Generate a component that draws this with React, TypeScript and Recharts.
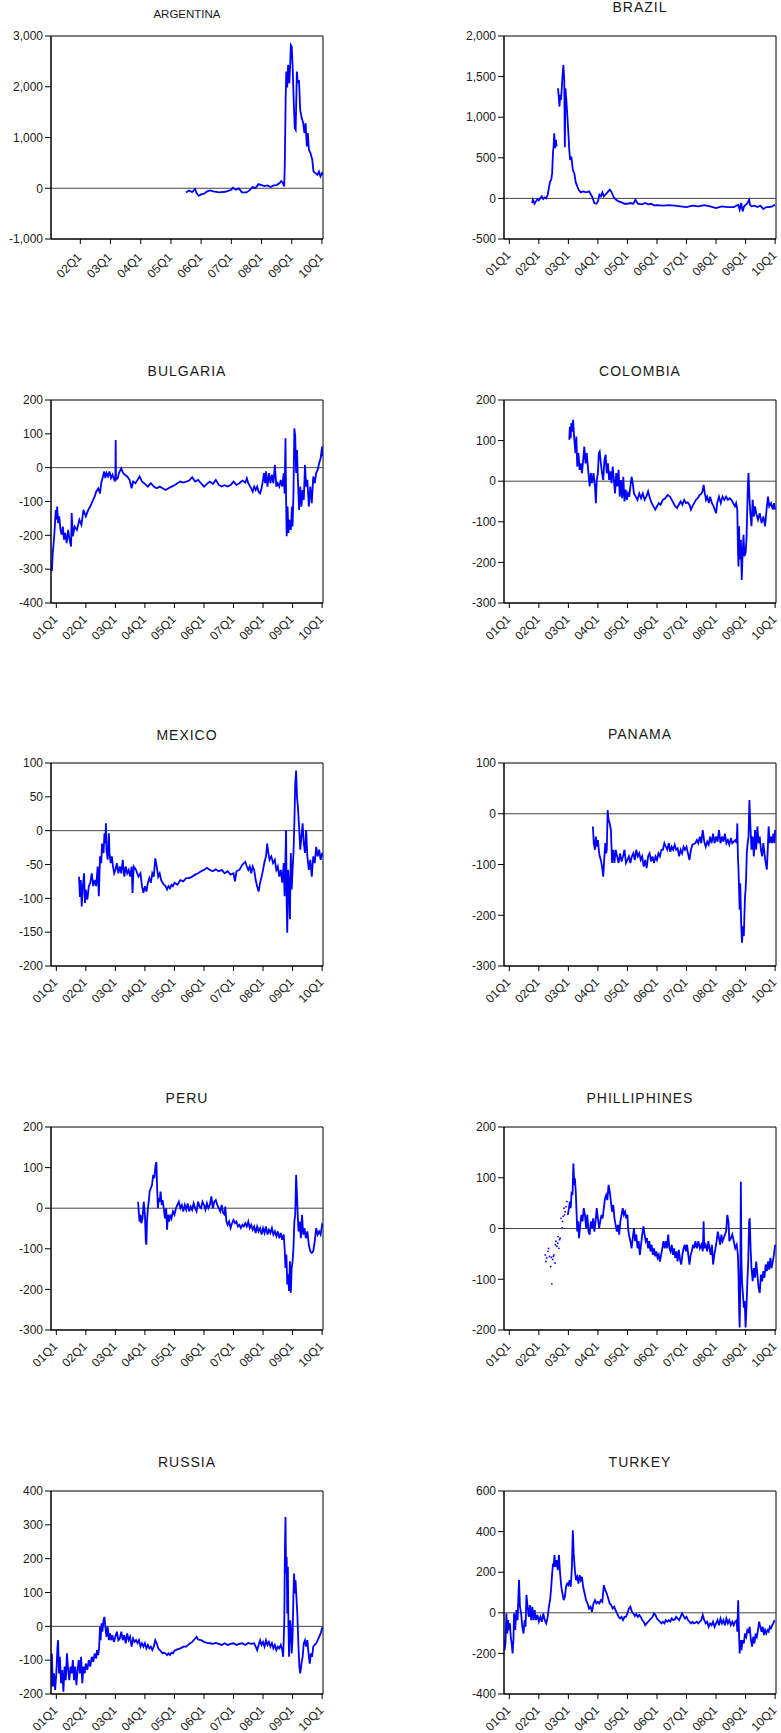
import React from 'react';
import { LineChart, Line, XAxis, YAxis, ReferenceLine, ReferenceArea } from 'recharts';

type Pt = [number, number | null];

const quarterTicks = [2001, 2002, 2003, 2004, 2005, 2006, 2007, 2008, 2009, 2010];
const quarterLabels = ['01Q1', '02Q1', '03Q1', '04Q1', '05Q1', '06Q1', '07Q1', '08Q1', '09Q1', '10Q1'];

const argentinaTicks = [-1000, 0, 1000, 2000, 3000];
const brazilTicks = [-500, 0, 500, 1000, 1500, 2000];
const bulgariaTicks = [-400, -300, -200, -100, 0, 100, 200];
const colombiaTicks = [-300, -200, -100, 0, 100, 200];
const mexicoTicks = [-200, -150, -100, -50, 0, 50, 100];
const panamaTicks = [-300, -200, -100, 0, 100];
const peruTicks = [-300, -200, -100, 0, 100, 200];
const philippinesTicks = [-200, -100, 0, 100, 200];
const russiaTicks = [-200, -100, 0, 100, 200, 300, 400];
const turkeyTicks = [-400, -200, 0, 200, 400, 600];

const argentina: Pt[] = [
  [2005.5,-82],[2005.6,-43],[2005.7,-75],[2005.8,-16],[2005.85,-95],[2005.92,-148],[2006.0,-121],[2006.1,-108],[2006.2,-62],[2006.3,-43],
  [2006.4,-62],[2006.6,-82],[2006.8,-69],[2007.0,-30],[2007.05,10],[2007.15,-30],[2007.25,-3],[2007.35,-82],[2007.5,-82],[2007.6,-43],
  [2007.7,23],[2007.8,3],[2007.9,82],[2008.0,62],[2008.1,43],[2008.2,56],[2008.3,23],[2008.4,56],[2008.5,62],[2008.6,102],
  [2008.65,141],[2008.7,115],[2008.75,36],[2008.77,456],[2008.8,1806],[2008.82,2298],[2008.85,1984],[2008.88,2430],[2008.92,2069],[2008.95,2462],
  [2008.97,2823],[2009.0,2790],[2009.03,2397],[2009.06,1806],[2009.1,1184],[2009.13,1151],[2009.17,2298],[2009.2,2069],[2009.24,2134],[2009.28,1544],
  [2009.32,1413],[2009.38,1282],[2009.42,1085],[2009.46,1282],[2009.5,823],[2009.53,1085],[2009.57,757],[2009.62,692],[2009.68,561],[2009.72,331],
  [2009.78,298],[2009.85,266],[2009.9,331],[2009.95,233],[2010.0,298],[2010.03,266],
];

const brazil: Pt[] = [
  [2001.77,-57],[2001.8,-16],[2001.85,-66],[2001.9,-37],[2001.95,-8],[2002.0,-25],[2002.05,4],[2002.1,25],[2002.15,-8],[2002.2,12],
  [2002.25,0],[2002.3,45],[2002.32,86],[2002.38,209],[2002.42,230],[2002.45,311],[2002.48,578],[2002.5,639],[2002.52,803],[2002.55,619],
  [2002.58,721],[2002.6,639],[2002.62,null],[2002.65,1357],[2002.7,1131],[2002.72,1275],[2002.75,1213],[2002.78,1377],[2002.8,1500],[2002.83,1643],
  [2002.86,1459],[2002.88,630],[2002.9,1357],[2002.93,1213],[2002.96,1049],[2003.0,803],[2003.03,598],[2003.06,475],[2003.1,516],[2003.15,352],
  [2003.2,311],[2003.25,197],[2003.3,148],[2003.35,107],[2003.42,74],[2003.5,86],[2003.6,74],[2003.7,86],[2003.8,25],[2003.88,-57],
  [2003.95,-66],[2004.0,-37],[2004.05,45],[2004.1,25],[2004.15,74],[2004.2,25],[2004.3,66],[2004.4,107],[2004.45,86],[2004.5,45],
  [2004.55,4],[2004.62,-16],[2004.7,-37],[2004.8,-49],[2004.9,-66],[2005.0,-66],[2005.1,-57],[2005.2,-66],[2005.27,-16],[2005.35,-66],
  [2005.5,-74],[2005.6,-57],[2005.7,-74],[2005.8,-66],[2005.9,-86],[2006.0,-82],[2006.2,-90],[2006.4,-82],[2006.6,-90],[2006.8,-98],
  [2007.0,-107],[2007.2,-90],[2007.4,-98],[2007.6,-82],[2007.8,-98],[2008.0,-119],[2008.2,-98],[2008.4,-107],[2008.6,-107],[2008.75,-78],
  [2008.8,-139],[2008.85,-57],[2008.9,-160],[2008.95,-98],[2009.05,-66],[2009.12,-16],[2009.15,-78],[2009.2,-98],[2009.3,-90],[2009.4,-107],
  [2009.5,-90],[2009.6,-131],[2009.7,-107],[2009.8,-107],[2009.9,-98],[2010.0,-78],
];

const bulgaria: Pt[] = [
  [2000.82,-292],[2000.85,-306],[2000.88,-252],[2000.92,-213],[2000.95,-174],[2000.98,-125],[2001.0,-154],[2001.03,-115],[2001.06,-164],[2001.1,-144],
  [2001.14,-184],[2001.18,-198],[2001.22,-174],[2001.26,-213],[2001.3,-193],[2001.35,-223],[2001.4,-184],[2001.45,-213],[2001.5,-233],[2001.52,-134],
  [2001.56,-203],[2001.62,-174],[2001.7,-184],[2001.78,-154],[2001.85,-169],[2001.92,-125],[2002.0,-144],[2002.08,-125],[2002.15,-115],[2002.22,-100],
  [2002.3,-85],[2002.35,-71],[2002.42,-61],[2002.48,-76],[2002.52,-46],[2002.58,-26],[2002.62,-11],[2002.66,-31],[2002.7,-16],[2002.75,-26],
  [2002.8,-11],[2002.85,-31],[2002.9,-21],[2002.96,-36],[2003.0,-26],[2003.01,82],[2003.02,-36],[2003.08,-31],[2003.12,-16],[2003.2,-2],
  [2003.26,-16],[2003.32,-21],[2003.4,-26],[2003.48,-36],[2003.55,-61],[2003.6,-41],[2003.68,-46],[2003.75,-36],[2003.82,-26],[2003.9,-41],
  [2004.0,-48],[2004.1,-56],[2004.2,-46],[2004.3,-56],[2004.4,-61],[2004.5,-56],[2004.6,-61],[2004.7,-66],[2004.8,-61],[2004.9,-56],
  [2005.0,-52],[2005.1,-46],[2005.2,-41],[2005.3,-44],[2005.4,-41],[2005.5,-38],[2005.6,-28],[2005.7,-41],[2005.8,-36],[2005.9,-46],
  [2006.0,-56],[2006.1,-48],[2006.2,-41],[2006.3,-48],[2006.4,-36],[2006.5,-51],[2006.6,-56],[2006.7,-52],[2006.8,-56],[2006.9,-51],
  [2007.0,-41],[2007.1,-51],[2007.2,-46],[2007.3,-38],[2007.4,-44],[2007.45,-31],[2007.5,-46],[2007.6,-61],[2007.65,-71],[2007.7,-56],
  [2007.75,-66],[2007.8,-56],[2007.85,-71],[2007.9,-76],[2007.95,-61],[2008.0,-36],[2008.03,-16],[2008.07,-46],[2008.1,-11],[2008.15,-56],
  [2008.2,-16],[2008.25,-46],[2008.3,-21],[2008.35,-46],[2008.4,8],[2008.45,-56],[2008.5,-46],[2008.55,-56],[2008.6,-36],[2008.65,-56],
  [2008.7,-16],[2008.73,-76],[2008.76,87],[2008.78,-85],[2008.8,-203],[2008.83,-115],[2008.86,-193],[2008.9,-154],[2008.94,-184],[2008.98,-115],
  [2009.0,-174],[2009.03,-76],[2009.06,116],[2009.09,92],[2009.12,-16],[2009.15,52],[2009.18,-36],[2009.22,-125],[2009.26,-56],[2009.3,-115],
  [2009.34,-66],[2009.38,-95],[2009.42,8],[2009.46,-56],[2009.5,-36],[2009.55,-115],[2009.6,-56],[2009.65,-105],[2009.7,-26],[2009.75,-46],
  [2009.8,-16],[2009.85,-6],[2009.9,13],[2009.95,28],[2010.0,62],[2010.03,33],
];

const colombia: Pt[] = [
  [2003.03,102],[2003.05,134],[2003.08,106],[2003.1,143],[2003.13,122],[2003.16,151],[2003.2,102],[2003.24,69],[2003.27,110],[2003.3,36],
  [2003.34,69],[2003.38,28],[2003.42,44],[2003.46,20],[2003.5,52],[2003.54,85],[2003.58,44],[2003.62,69],[2003.66,36],[2003.72,-13],
  [2003.76,20],[2003.8,-5],[2003.85,20],[2003.9,-13],[2003.93,-54],[2003.96,3],[2004.0,20],[2004.03,69],[2004.06,73],[2004.1,44],
  [2004.14,20],[2004.18,3],[2004.22,52],[2004.26,65],[2004.3,20],[2004.34,44],[2004.38,3],[2004.42,24],[2004.46,-5],[2004.5,36],
  [2004.54,3],[2004.58,-30],[2004.62,20],[2004.66,-13],[2004.7,28],[2004.74,-38],[2004.78,3],[2004.82,-42],[2004.86,11],[2004.9,-50],
  [2004.94,-21],[2004.98,-46],[2005.02,-30],[2005.06,-38],[2005.1,-13],[2005.14,11],[2005.18,-5],[2005.22,-30],[2005.28,-38],[2005.34,-46],
  [2005.4,-30],[2005.46,-42],[2005.52,-30],[2005.58,-46],[2005.64,-38],[2005.7,-25],[2005.76,-42],[2005.82,-54],[2005.88,-62],[2005.94,-70],
  [2006.0,-62],[2006.06,-54],[2006.12,-58],[2006.2,-46],[2006.28,-42],[2006.36,-34],[2006.44,-38],[2006.5,-46],[2006.56,-54],[2006.62,-62],
  [2006.68,-66],[2006.74,-58],[2006.8,-50],[2006.86,-58],[2006.92,-46],[2006.98,-54],[2007.04,-52],[2007.1,-58],[2007.15,-70],[2007.2,-62],
  [2007.26,-54],[2007.32,-46],[2007.38,-42],[2007.44,-34],[2007.5,-31],[2007.54,-25],[2007.58,-9],[2007.62,-30],[2007.66,-46],[2007.7,-38],
  [2007.76,-54],[2007.8,-38],[2007.86,-54],[2007.92,-62],[2008.0,-79],[2008.04,-54],[2008.1,-38],[2008.16,-54],[2008.22,-38],[2008.28,-46],
  [2008.34,-38],[2008.4,-46],[2008.46,-42],[2008.52,-46],[2008.58,-54],[2008.64,-62],[2008.68,-54],[2008.72,-70],[2008.74,-161],[2008.76,-210],
  [2008.78,-111],[2008.8,-193],[2008.84,-144],[2008.87,-243],[2008.9,-177],[2008.93,-132],[2008.96,-185],[2009.0,-177],[2009.03,-144],[2009.06,-62],
  [2009.08,-5],[2009.1,20],[2009.13,-38],[2009.16,-79],[2009.2,-111],[2009.24,-46],[2009.28,-87],[2009.32,-62],[2009.36,-79],[2009.42,-95],
  [2009.48,-79],[2009.54,-103],[2009.6,-87],[2009.66,-111],[2009.72,-62],[2009.76,-38],[2009.8,-62],[2009.86,-54],[2009.92,-70],[2009.96,-54],
  [2010.0,-70],
];

const mexico: Pt[] = [
  [2001.77,-68],[2001.8,-98],[2001.83,-73],[2001.86,-112],[2001.9,-82],[2001.94,-63],[2001.97,-107],[2002.0,-87],[2002.05,-102],[2002.1,-82],
  [2002.15,-77],[2002.2,-63],[2002.25,-82],[2002.3,-73],[2002.35,-82],[2002.4,-53],[2002.44,-97],[2002.48,-38],[2002.52,-48],[2002.55,-19],
  [2002.6,-33],[2002.63,-4],[2002.66,-19],[2002.68,11],[2002.7,-28],[2002.74,-43],[2002.78,-4],[2002.8,-33],[2002.84,-48],[2002.88,-38],
  [2002.92,-53],[2002.96,-63],[2003.0,-58],[2003.05,-48],[2003.1,-63],[2003.15,-53],[2003.2,-63],[2003.25,-43],[2003.3,-68],[2003.35,-53],
  [2003.4,-63],[2003.45,-58],[2003.5,-68],[2003.55,-53],[2003.58,-92],[2003.62,-53],[2003.7,-58],[2003.78,-68],[2003.85,-63],[2003.9,-82],
  [2003.95,-92],[2004.0,-82],[2004.05,-90],[2004.1,-77],[2004.15,-70],[2004.2,-77],[2004.25,-63],[2004.3,-68],[2004.35,-41],[2004.4,-53],
  [2004.45,-68],[2004.5,-63],[2004.55,-73],[2004.6,-77],[2004.65,-80],[2004.7,-82],[2004.75,-87],[2004.8,-82],[2004.85,-85],[2004.9,-80],
  [2004.95,-82],[2005.0,-77],[2005.1,-80],[2005.2,-73],[2005.3,-75],[2005.4,-70],[2005.5,-70],[2005.6,-68],[2005.7,-65],[2005.8,-63],
  [2005.9,-60],[2006.0,-58],[2006.1,-55],[2006.2,-58],[2006.3,-60],[2006.4,-57],[2006.5,-60],[2006.6,-58],[2006.7,-63],[2006.8,-60],
  [2006.9,-65],[2007.0,-63],[2007.05,-75],[2007.1,-60],[2007.2,-58],[2007.3,-50],[2007.4,-46],[2007.45,-53],[2007.5,-58],[2007.55,-53],
  [2007.6,-63],[2007.65,-53],[2007.7,-58],[2007.75,-73],[2007.8,-82],[2007.85,-90],[2007.9,-77],[2007.95,-68],[2008.0,-58],[2008.05,-46],
  [2008.1,-38],[2008.14,-19],[2008.18,-33],[2008.22,-43],[2008.28,-38],[2008.34,-48],[2008.4,-43],[2008.45,-58],[2008.5,-53],[2008.55,-68],
  [2008.6,-58],[2008.65,-77],[2008.7,-48],[2008.73,-97],[2008.76,-38],[2008.78,1],[2008.8,-107],[2008.82,-151],[2008.85,-58],[2008.88,-82],
  [2008.91,-131],[2008.94,-33],[2008.97,-87],[2009.0,-58],[2009.03,-33],[2009.06,11],[2009.09,70],[2009.12,89],[2009.15,50],[2009.18,35],
  [2009.22,6],[2009.26,-28],[2009.3,-9],[2009.34,11],[2009.38,-19],[2009.42,-33],[2009.46,1],[2009.5,-38],[2009.55,-58],[2009.6,-43],
  [2009.65,-68],[2009.7,-38],[2009.75,-48],[2009.8,-24],[2009.85,-38],[2009.9,-28],[2009.95,-43],[2010.0,-33],[2010.03,-38],
];

const panama: Pt[] = [
  [2003.83,-25],[2003.86,-58],[2003.9,-71],[2003.93,-45],[2003.97,-65],[2004.0,-52],[2004.03,-71],[2004.06,-84],[2004.1,-91],[2004.14,-104],
  [2004.18,-124],[2004.22,-84],[2004.25,-58],[2004.28,-78],[2004.3,-71],[2004.33,7],[2004.36,-12],[2004.4,-19],[2004.44,-32],[2004.48,-97],
  [2004.52,-71],[2004.56,-97],[2004.6,-71],[2004.65,-84],[2004.7,-97],[2004.75,-78],[2004.8,-94],[2004.85,-84],[2004.9,-71],[2004.95,-97],
  [2005.0,-91],[2005.05,-84],[2005.1,-97],[2005.15,-84],[2005.2,-78],[2005.25,-91],[2005.3,-71],[2005.35,-84],[2005.4,-78],[2005.45,-91],
  [2005.5,-84],[2005.55,-104],[2005.6,-91],[2005.65,-107],[2005.7,-84],[2005.75,-78],[2005.8,-94],[2005.85,-84],[2005.9,-97],[2005.95,-84],
  [2006.0,-91],[2006.05,-78],[2006.1,-84],[2006.15,-71],[2006.2,-71],[2006.25,-58],[2006.3,-65],[2006.35,-71],[2006.4,-58],[2006.45,-75],
  [2006.5,-65],[2006.55,-71],[2006.6,-61],[2006.65,-71],[2006.7,-68],[2006.75,-84],[2006.8,-71],[2006.85,-78],[2006.9,-65],[2006.95,-71],
  [2007.0,-65],[2007.05,-78],[2007.1,-91],[2007.15,-71],[2007.2,-61],[2007.3,-58],[2007.35,-52],[2007.4,-58],[2007.45,-45],[2007.5,-58],
  [2007.55,-32],[2007.6,-55],[2007.65,-65],[2007.7,-55],[2007.75,-61],[2007.8,-45],[2007.85,-58],[2007.9,-39],[2007.95,-58],[2008.0,-45],
  [2008.05,-55],[2008.1,-32],[2008.15,-58],[2008.2,-45],[2008.25,-55],[2008.3,-39],[2008.35,-58],[2008.4,-52],[2008.45,-61],[2008.5,-48],
  [2008.55,-58],[2008.6,-55],[2008.65,-52],[2008.7,-58],[2008.72,-19],[2008.74,-84],[2008.76,-110],[2008.78,-150],[2008.8,-189],[2008.82,-137],
  [2008.85,-215],[2008.88,-254],[2008.91,-222],[2008.94,-241],[2008.96,-202],[2008.98,-163],[2009.0,-150],[2009.02,-124],[2009.04,-78],[2009.07,-58],
  [2009.1,-45],[2009.13,27],[2009.16,-19],[2009.2,-71],[2009.24,-45],[2009.28,-84],[2009.32,-32],[2009.36,-71],[2009.4,-25],[2009.44,-58],
  [2009.48,-45],[2009.52,-71],[2009.56,-84],[2009.6,-58],[2009.64,-78],[2009.68,-97],[2009.72,-110],[2009.75,-71],[2009.78,-25],[2009.82,-58],
  [2009.86,-45],[2009.9,-58],[2009.94,-39],[2009.98,-58],[2010.0,-32],
];

const peru: Pt[] = [
  [2003.77,16],[2003.79,-8],[2003.82,-33],[2003.85,-16],[2003.88,-37],[2003.92,-25],[2003.96,16],[2004.0,-16],[2004.03,-82],[2004.05,-90],
  [2004.07,-33],[2004.1,0],[2004.13,16],[2004.16,41],[2004.2,49],[2004.24,57],[2004.28,82],[2004.32,74],[2004.36,106],[2004.39,114],
  [2004.41,57],[2004.44,0],[2004.47,25],[2004.5,16],[2004.53,41],[2004.57,8],[2004.6,20],[2004.65,-8],[2004.68,-25],[2004.72,0],
  [2004.75,-53],[2004.78,-16],[2004.82,-33],[2004.86,-16],[2004.9,-25],[2004.95,-8],[2005.0,-16],[2005.05,0],[2005.1,8],[2005.15,16],
  [2005.2,0],[2005.25,8],[2005.3,-8],[2005.35,8],[2005.4,-4],[2005.45,12],[2005.5,-8],[2005.55,4],[2005.6,-4],[2005.65,12],
  [2005.7,0],[2005.75,-8],[2005.8,16],[2005.85,4],[2005.9,0],[2005.95,16],[2006.0,8],[2006.05,-4],[2006.1,12],[2006.15,0],
  [2006.2,8],[2006.25,29],[2006.3,0],[2006.35,16],[2006.4,20],[2006.45,8],[2006.5,0],[2006.55,-8],[2006.6,8],[2006.65,-12],
  [2006.7,-16],[2006.72,4],[2006.76,-33],[2006.8,-41],[2006.85,-33],[2006.9,-49],[2006.95,-37],[2007.0,-29],[2007.05,-37],[2007.1,-33],
  [2007.15,-45],[2007.2,-41],[2007.25,-49],[2007.3,-41],[2007.35,-45],[2007.4,-37],[2007.45,-45],[2007.5,-33],[2007.55,-49],[2007.6,-41],
  [2007.65,-53],[2007.7,-45],[2007.75,-61],[2007.8,-45],[2007.85,-57],[2007.9,-49],[2007.95,-65],[2008.0,-49],[2008.05,-61],[2008.1,-45],
  [2008.15,-65],[2008.2,-53],[2008.25,-61],[2008.3,-49],[2008.35,-65],[2008.4,-57],[2008.45,-69],[2008.5,-57],[2008.55,-74],[2008.6,-61],
  [2008.65,-78],[2008.7,-65],[2008.73,-98],[2008.76,-147],[2008.79,-114],[2008.82,-188],[2008.85,-163],[2008.88,-204],[2008.91,-131],[2008.94,-208],
  [2008.97,-147],[2009.0,-131],[2009.03,-98],[2009.06,-33],[2009.09,-16],[2009.12,82],[2009.14,49],[2009.17,-8],[2009.2,-57],[2009.24,-33],
  [2009.28,-74],[2009.32,-16],[2009.36,-65],[2009.4,-49],[2009.45,-74],[2009.5,-57],[2009.55,-90],[2009.6,-106],[2009.65,-110],[2009.7,-106],
  [2009.75,-82],[2009.8,-49],[2009.85,-65],[2009.9,-57],[2009.95,-65],[2010.0,-41],[2010.03,-45],
];

const philippinesDots: Pt[] = [
  [2002.22,-52],[2002.24,-65],[2002.27,-58],[2002.31,-45],[2002.33,-39],[2002.36,-55],[2002.4,-75],[2002.42,-57],[2002.44,-109],[2002.47,-61],
  [2002.49,-55],[2002.51,-52],[2002.55,-68],[2002.56,-32],[2002.58,-25],[2002.61,-35],[2002.64,-29],[2002.65,-16],[2002.68,-39],[2002.7,-22],
  [2002.72,-19],[2002.75,20],[2002.79,1],[2002.8,14],[2002.82,24],[2002.85,40],[2002.87,27],[2002.89,33],[2002.92,43],[2002.95,53],
];

const philippines: Pt[] = [
  [2002.98,27],[2003.02,40],[2003.05,53],[2003.08,40],[2003.11,73],[2003.14,66],[2003.17,128],[2003.2,86],[2003.22,99],[2003.25,73],
  [2003.28,27],[2003.3,-6],[2003.33,14],[2003.36,-19],[2003.4,7],[2003.44,27],[2003.48,14],[2003.52,40],[2003.56,27],[2003.6,1],
  [2003.64,27],[2003.68,-6],[2003.72,-12],[2003.76,14],[2003.8,1],[2003.84,20],[2003.88,-6],[2003.92,14],[2003.96,40],[2004.0,20],
  [2004.04,1],[2004.08,14],[2004.12,27],[2004.16,20],[2004.2,40],[2004.24,59],[2004.28,66],[2004.32,56],[2004.36,86],[2004.4,73],
  [2004.44,53],[2004.48,33],[2004.52,46],[2004.56,20],[2004.6,7],[2004.64,-6],[2004.68,7],[2004.72,-12],[2004.76,14],[2004.8,27],
  [2004.84,40],[2004.88,27],[2004.92,33],[2004.96,20],[2005.0,27],[2005.02,1],[2005.05,-12],[2005.1,-25],[2005.14,-39],[2005.18,-19],
  [2005.22,1],[2005.26,-25],[2005.3,-12],[2005.34,-39],[2005.38,-25],[2005.42,-52],[2005.46,-32],[2005.5,-12],[2005.54,4],[2005.58,-12],
  [2005.62,-25],[2005.66,-19],[2005.7,-39],[2005.74,-25],[2005.78,-45],[2005.82,-32],[2005.86,-52],[2005.9,-39],[2005.94,-55],[2005.98,-45],
  [2006.02,-58],[2006.06,-52],[2006.1,-65],[2006.14,-52],[2006.18,-39],[2006.22,-25],[2006.26,-39],[2006.3,-25],[2006.34,-39],[2006.38,-12],
  [2006.42,-39],[2006.46,-45],[2006.5,-32],[2006.54,-52],[2006.58,-39],[2006.62,-58],[2006.66,-45],[2006.7,-65],[2006.74,-42],[2006.78,-61],
  [2006.82,-71],[2006.86,-52],[2006.9,-39],[2006.94,-32],[2006.98,-45],[2007.02,-32],[2007.06,-52],[2007.1,-71],[2007.14,-52],[2007.18,-45],
  [2007.22,-32],[2007.26,-39],[2007.3,-25],[2007.35,-39],[2007.4,-25],[2007.45,-39],[2007.5,-32],[2007.55,-45],[2007.58,14],[2007.6,-39],
  [2007.65,-32],[2007.7,-45],[2007.74,-25],[2007.78,-39],[2007.82,-52],[2007.86,-32],[2007.9,-71],[2007.94,-52],[2007.98,-39],[2008.02,-25],
  [2008.06,-6],[2008.1,-19],[2008.14,-32],[2008.18,-12],[2008.22,-25],[2008.26,-19],[2008.3,-12],[2008.34,-6],[2008.38,27],[2008.42,14],
  [2008.45,-25],[2008.5,-19],[2008.55,-12],[2008.6,-25],[2008.65,-39],[2008.7,-32],[2008.74,-52],[2008.76,-91],[2008.78,-156],[2008.8,-195],
  [2008.82,-117],[2008.84,92],[2008.86,-65],[2008.88,-104],[2008.91,-130],[2008.94,-156],[2008.97,-143],[2009.0,-195],[2009.03,-156],[2009.06,-104],
  [2009.09,-65],[2009.12,14],[2009.14,20],[2009.17,-39],[2009.2,-78],[2009.24,-104],[2009.28,-78],[2009.32,-97],[2009.36,-65],[2009.4,-91],
  [2009.44,-117],[2009.48,-127],[2009.52,-91],[2009.56,-104],[2009.6,-84],[2009.64,-97],[2009.68,-71],[2009.72,-84],[2009.76,-65],[2009.8,-81],
  [2009.84,-58],[2009.88,-78],[2009.92,-65],[2009.96,-52],[2010.0,-32],
];

const russia: Pt[] = [
  [2000.82,-178],[2000.85,-80],[2000.88,-178],[2000.92,-139],[2000.96,-188],[2001.0,-139],[2001.04,-60],[2001.06,-41],[2001.09,-139],[2001.12,-90],
  [2001.16,-168],[2001.2,-129],[2001.24,-193],[2001.28,-119],[2001.32,-159],[2001.36,-80],[2001.4,-129],[2001.44,-159],[2001.48,-119],[2001.52,-139],
  [2001.56,-100],[2001.6,-159],[2001.64,-119],[2001.68,-174],[2001.72,-129],[2001.76,-100],[2001.8,-139],[2001.84,-90],[2001.88,-168],[2001.92,-119],
  [2001.96,-139],[2002.0,-110],[2002.05,-129],[2002.1,-100],[2002.15,-119],[2002.2,-90],[2002.25,-105],[2002.3,-80],[2002.35,-95],[2002.38,-70],
  [2002.42,-85],[2002.45,-60],[2002.48,-1],[2002.5,-41],[2002.53,9],[2002.56,-16],[2002.6,18],[2002.63,28],[2002.66,-1],[2002.7,-31],
  [2002.74,-1],[2002.78,-41],[2002.82,-21],[2002.86,-41],[2002.9,-26],[2002.95,-46],[2003.0,-31],[2003.05,-16],[2003.1,-41],[2003.15,-36],
  [2003.2,-16],[2003.25,-41],[2003.3,-26],[2003.35,-50],[2003.4,-21],[2003.45,-41],[2003.5,-31],[2003.55,-60],[2003.6,-36],[2003.65,-46],
  [2003.7,-41],[2003.75,-50],[2003.8,-41],[2003.85,-60],[2003.9,-50],[2003.95,-60],[2004.0,-50],[2004.05,-65],[2004.1,-55],[2004.15,-65],
  [2004.2,-60],[2004.25,-70],[2004.3,-60],[2004.35,-41],[2004.4,-50],[2004.45,-65],[2004.5,-70],[2004.55,-75],[2004.6,-80],[2004.65,-78],
  [2004.7,-80],[2004.75,-85],[2004.8,-80],[2004.85,-85],[2004.9,-78],[2004.95,-80],[2005.0,-72],[2005.1,-68],[2005.2,-65],[2005.3,-60],
  [2005.4,-60],[2005.5,-52],[2005.6,-46],[2005.7,-36],[2005.75,-31],[2005.8,-39],[2005.9,-41],[2006.0,-46],[2006.1,-49],[2006.2,-50],
  [2006.3,-52],[2006.4,-49],[2006.5,-52],[2006.6,-55],[2006.7,-50],[2006.8,-55],[2006.9,-52],[2007.0,-50],[2007.1,-55],[2007.2,-52],
  [2007.3,-50],[2007.4,-55],[2007.5,-49],[2007.6,-52],[2007.7,-50],[2007.75,-60],[2007.8,-70],[2007.85,-55],[2007.9,-41],[2007.95,-55],
  [2008.0,-46],[2008.05,-60],[2008.1,-41],[2008.15,-55],[2008.2,-46],[2008.25,-60],[2008.3,-50],[2008.35,-65],[2008.4,-55],[2008.45,-70],
  [2008.5,-60],[2008.55,-65],[2008.6,-55],[2008.65,-70],[2008.68,-90],[2008.7,-41],[2008.72,18],[2008.74,225],[2008.76,323],[2008.78,156],
  [2008.8,205],[2008.82,38],[2008.84,176],[2008.86,-1],[2008.88,-90],[2008.9,-21],[2008.92,18],[2008.94,-1],[2008.97,-80],[2009.0,-31],
  [2009.03,97],[2009.05,156],[2009.08,97],[2009.1,136],[2009.13,87],[2009.16,38],[2009.2,-60],[2009.23,-119],[2009.26,-139],[2009.3,-110],
  [2009.34,-90],[2009.38,-50],[2009.42,-41],[2009.46,-60],[2009.5,-41],[2009.54,-80],[2009.58,-110],[2009.62,-80],[2009.66,-90],[2009.7,-60],
  [2009.75,-55],[2009.8,-50],[2009.85,-41],[2009.9,-31],[2009.95,-21],[2010.0,-6],[2010.03,-1],
];

const turkey: Pt[] = [
  [2000.82,-134],[2000.84,-184],[2000.87,-151],[2000.9,-3],[2000.93,-102],[2000.96,-36],[2000.99,-85],[2001.02,-52],[2001.05,-118],[2001.08,-151],
  [2001.11,-200],[2001.14,-134],[2001.16,-3],[2001.2,-85],[2001.24,13],[2001.28,-36],[2001.31,95],[2001.33,161],[2001.36,30],[2001.4,-3],
  [2001.44,-69],[2001.48,-102],[2001.52,-36],[2001.55,-69],[2001.58,87],[2001.62,30],[2001.66,-20],[2001.7,38],[2001.74,-36],[2001.78,30],
  [2001.82,-36],[2001.86,13],[2001.9,-36],[2001.95,-11],[2002.0,-44],[2002.05,-20],[2002.1,-44],[2002.15,-3],[2002.2,-36],[2002.25,-52],
  [2002.3,-20],[2002.34,30],[2002.38,62],[2002.42,128],[2002.45,193],[2002.48,243],[2002.5,226],[2002.53,284],[2002.56,226],[2002.6,259],
  [2002.64,210],[2002.68,284],[2002.72,193],[2002.76,128],[2002.8,95],[2002.84,62],[2002.88,79],[2002.92,128],[2002.96,144],[2003.0,136],
  [2003.04,161],[2003.08,128],[2003.12,226],[2003.15,407],[2003.18,292],[2003.22,210],[2003.26,161],[2003.3,177],[2003.34,144],[2003.38,185],
  [2003.42,161],[2003.46,177],[2003.5,128],[2003.55,95],[2003.6,62],[2003.65,46],[2003.7,21],[2003.75,30],[2003.8,5],[2003.85,46],
  [2003.9,62],[2003.95,46],[2004.0,54],[2004.05,46],[2004.1,62],[2004.15,54],[2004.2,136],[2004.25,111],[2004.3,95],[2004.35,70],
  [2004.4,46],[2004.45,38],[2004.5,21],[2004.55,30],[2004.6,13],[2004.65,-3],[2004.7,-20],[2004.75,-28],[2004.8,-20],[2004.85,-36],
  [2004.9,-20],[2004.95,-20],[2005.0,-3],[2005.05,21],[2005.1,30],[2005.15,5],[2005.2,-3],[2005.25,-16],[2005.3,-7],[2005.35,-20],
  [2005.4,-11],[2005.45,-20],[2005.5,-36],[2005.55,-44],[2005.6,-61],[2005.65,-52],[2005.7,-44],[2005.75,-36],[2005.8,-28],[2005.85,-20],
  [2005.9,-3],[2005.95,-11],[2006.0,-28],[2006.05,-36],[2006.1,-44],[2006.15,-52],[2006.2,-44],[2006.25,-52],[2006.3,-36],[2006.35,-44],
  [2006.4,-36],[2006.45,-44],[2006.5,-28],[2006.55,-36],[2006.6,-33],[2006.65,-20],[2006.7,-28],[2006.75,-36],[2006.8,-20],[2006.85,-3],
  [2006.9,-16],[2006.95,-28],[2007.0,-20],[2007.05,-36],[2007.1,-44],[2007.15,-52],[2007.2,-44],[2007.25,-52],[2007.3,-49],[2007.35,-44],
  [2007.4,-52],[2007.45,-44],[2007.5,-36],[2007.55,-11],[2007.6,-36],[2007.65,-52],[2007.7,-44],[2007.75,-69],[2007.8,-52],[2007.85,-61],
  [2007.9,-44],[2007.95,-69],[2008.0,-52],[2008.05,-36],[2008.1,-61],[2008.15,-28],[2008.2,-52],[2008.25,-36],[2008.3,-61],[2008.35,-28],
  [2008.4,-52],[2008.45,-36],[2008.5,-61],[2008.55,-44],[2008.6,-61],[2008.65,-44],[2008.7,-36],[2008.72,-93],[2008.75,62],[2008.77,-69],
  [2008.8,-200],[2008.83,-134],[2008.86,-184],[2008.9,-134],[2008.94,-151],[2008.98,-102],[2009.02,-118],[2009.06,-85],[2009.1,-93],[2009.14,-69],
  [2009.18,-134],[2009.22,-167],[2009.26,-118],[2009.3,-151],[2009.34,-102],[2009.38,-118],[2009.42,-85],[2009.46,-44],[2009.5,-69],[2009.54,-93],
  [2009.58,-69],[2009.62,-110],[2009.66,-85],[2009.7,-102],[2009.74,-85],[2009.78,-93],[2009.82,-69],[2009.86,-77],[2009.9,-61],[2009.94,-52],
  [2009.98,-36],
];

// ---------- layout ----------
const PLOT_W = 272;
const PLOT_H = 203;
const YAXIS_W = 50;
const XAXIS_H = 45;
const PAD_T = 12;
const PAD_R = 12;
const COL_X = [51, 504];
const ROW_Y = [36, 400, 763, 1127, 1491];
const FONT = '"Liberation Sans", Arial, Helvetica, sans-serif';
const TEXT = '#1a1a1a';

interface PanelCfg {
  title: string;
  data: Pt[];
  dots?: Pt[];
  yTicks: number[];
  xMin: number;
  xMax: number;
  col: number;
  row: number;
  titleSize: number;
  titleSpacing: number;
  titleY: number;
  labelOffset: number;
}

const XMIN = 2000.82;
const XMAX = 2010.03;

const panels: PanelCfg[] = [
  { title: 'ARGENTINA', data: argentina, yTicks: argentinaTicks, xMin: 2001.03, xMax: 2010.035, col: 0, row: 0, titleSize: 11.5, titleSpacing: 0, titleY: 14, labelOffset: 14 },
  { title: 'BRAZIL', data: brazil, yTicks: brazilTicks, xMin: XMIN, xMax: XMAX, col: 1, row: 0, titleSize: 14, titleSpacing: 1, titleY: 7, labelOffset: 12 },
  { title: 'BULGARIA', data: bulgaria, yTicks: bulgariaTicks, xMin: XMIN, xMax: XMAX, col: 0, row: 1, titleSize: 14, titleSpacing: 1, titleY: 371, labelOffset: 12 },
  { title: 'COLOMBIA', data: colombia, yTicks: colombiaTicks, xMin: XMIN, xMax: XMAX, col: 1, row: 1, titleSize: 14, titleSpacing: 1, titleY: 371, labelOffset: 12 },
  { title: 'MEXICO', data: mexico, yTicks: mexicoTicks, xMin: XMIN, xMax: XMAX, col: 0, row: 2, titleSize: 14, titleSpacing: 1, titleY: 735, labelOffset: 12 },
  { title: 'PANAMA', data: panama, yTicks: panamaTicks, xMin: XMIN, xMax: XMAX, col: 1, row: 2, titleSize: 14, titleSpacing: 1, titleY: 734, labelOffset: 12 },
  { title: 'PERU', data: peru, yTicks: peruTicks, xMin: XMIN, xMax: XMAX, col: 0, row: 3, titleSize: 14, titleSpacing: 1, titleY: 1098, labelOffset: 12 },
  { title: 'PHILLIPHINES', data: philippines, dots: philippinesDots, yTicks: philippinesTicks, xMin: XMIN, xMax: XMAX, col: 1, row: 3, titleSize: 14, titleSpacing: 1, titleY: 1098, labelOffset: 12 },
  { title: 'RUSSIA', data: russia, yTicks: russiaTicks, xMin: XMIN, xMax: XMAX, col: 0, row: 4, titleSize: 14, titleSpacing: 1, titleY: 1462, labelOffset: 12 },
  { title: 'TURKEY', data: turkey, yTicks: turkeyTicks, xMin: XMIN, xMax: XMAX, col: 1, row: 4, titleSize: 14, titleSpacing: 1, titleY: 1462, labelOffset: 12 },
];

const fmt = (v: number) => v.toLocaleString('en-US');

function XTick(props: any) {
  const { x, y, payload, labelOffset } = props;
  const idx = quarterTicks.indexOf(payload.value);
  const ex = x + 2;
  const ey = y + labelOffset;
  return (
    <text x={ex} y={ey} textAnchor="end" fontSize={12} fill={TEXT} fontFamily={FONT} transform={`rotate(-45, ${ex}, ${ey})`}>
      {idx >= 0 ? quarterLabels[idx] : ''}
    </text>
  );
}

function Panel({ cfg }: { cfg: PanelCfg }) {
  const rows = cfg.data.map(([t, v]) => ({ t, v }));
  const dotRows = cfg.dots ? cfg.dots.map(([t, v]) => ({ t, v })) : null;
  const ticks = quarterTicks.filter((t) => t >= cfg.xMin && t <= cfg.xMax);
  const yMin = cfg.yTicks[0];
  const yMax = cfg.yTicks[cfg.yTicks.length - 1];
  const left = COL_X[cfg.col];
  const top = ROW_Y[cfg.row];
  return (
    <>
      <div
        style={{
          position: 'absolute', left, top: cfg.titleY - 10, width: PLOT_W, height: 20, lineHeight: '20px',
          textAlign: 'center', fontSize: cfg.titleSize, letterSpacing: cfg.titleSpacing, color: TEXT, fontFamily: FONT,
        }}
      >
        {cfg.title}
      </div>
      <div style={{ position: 'absolute', left: left - YAXIS_W, top: top - PAD_T }}>
        <LineChart
          width={YAXIS_W + PLOT_W + PAD_R}
          height={PAD_T + PLOT_H + XAXIS_H}
          margin={{ top: PAD_T, right: PAD_R, left: 0, bottom: 0 }}
          style={{ overflow: 'visible' }}
        >
          <XAxis
            type="number"
            dataKey="t"
            domain={[cfg.xMin, cfg.xMax]}
            ticks={ticks}
            interval={0}
            allowDataOverflow
            height={XAXIS_H}
            tickSize={5}
            tickMargin={0}
            axisLine={{ stroke: '#000' }}
            tickLine={{ stroke: '#000' }}
            tick={<XTick labelOffset={cfg.labelOffset} />}
          />
          <YAxis
            type="number"
            domain={[yMin, yMax]}
            ticks={cfg.yTicks}
            interval={0}
            allowDataOverflow
            width={YAXIS_W}
            tickSize={6}
            tickMargin={2}
            tickFormatter={fmt}
            tick={{ fontSize: 12, fill: TEXT, fontFamily: FONT }}
            axisLine={{ stroke: '#000' }}
            tickLine={{ stroke: '#000' }}
          />
          <ReferenceLine y={0} stroke="#444" strokeWidth={1} ifOverflow="visible" />
          <ReferenceArea x1={cfg.xMin} x2={cfg.xMax} y1={yMin} y2={yMax} fill="none" fillOpacity={0} stroke="#000" strokeWidth={1} ifOverflow="visible" />
          <Line
            data={rows}
            dataKey="v"
            type="linear"
            stroke="#0000ff"
            strokeWidth={1.8}
            dot={false}
            activeDot={false}
            connectNulls={false}
            isAnimationActive={false}
          />
          {dotRows && (
            <Line
              data={dotRows}
              dataKey="v"
              type="linear"
              stroke="none"
              strokeWidth={0}
              dot={{ r: 0.9, fill: '#0000ff', stroke: 'none' }}
              activeDot={false}
              isAnimationActive={false}
            />
          )}
        </LineChart>
      </div>
    </>
  );
}

export default function App() {
  return (
    <div style={{ position: 'absolute', left: 0, top: 0, width: 781, height: 1733, background: '#fff', fontFamily: FONT }}>
      {panels.map((p) => (
        <Panel key={p.title} cfg={p} />
      ))}
    </div>
  );
}
